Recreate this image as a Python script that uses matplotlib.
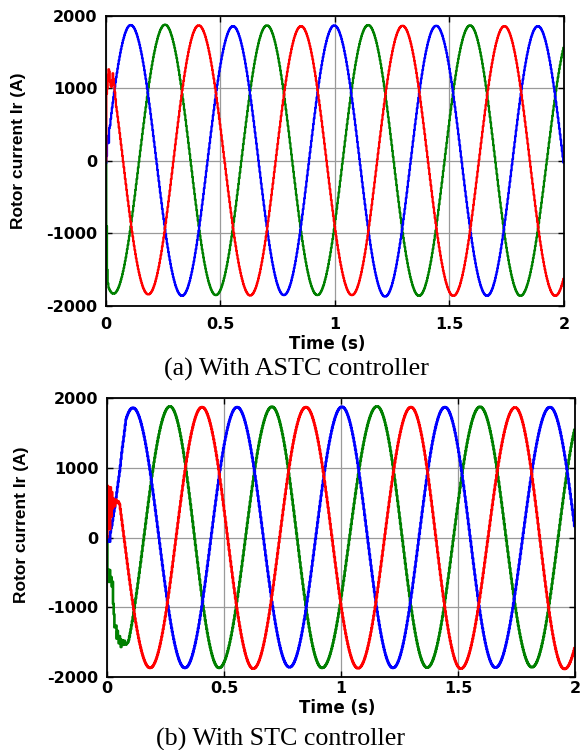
"""Rotor current of the three phases, ASTC vs STC controller (two stacked panels)."""

import matplotlib
matplotlib.use("Agg")
import matplotlib.pyplot as plt
import numpy as np

# ---- ASTC controller: (time s, current A) of successive extrema per phase
ASTC_BLUE_EXT_T = [-0.109, 0.108, 0.332, 0.555, 0.777, 0.997, 1.219, 1.442, 1.664, 1.886, 2.108]
ASTC_BLUE_EXT_I = [-1850, 1875, -1860, 1860, -1850, 1870, -1870, 1865, -1860, 1860, -1850]
ASTC_GREEN_EXT_T = [-0.188, 0.033, 0.258, 0.480, 0.703, 0.923, 1.145, 1.367, 1.590, 1.810, 2.040]
ASTC_GREEN_EXT_I = [1850, -1830, 1880, -1850, 1870, -1850, 1875, -1860, 1870, -1860, 1860]
ASTC_RED_EXT_T = [-0.036, 0.185, 0.405, 0.630, 0.852, 1.074, 1.295, 1.517, 1.740, 1.962, 2.184]
ASTC_RED_EXT_I = [1850, -1840, 1870, -1855, 1860, -1850, 1865, -1860, 1860, -1860, 1850]

# start-up transient (first few tens of ms)
ASTC_BLUE_START_T = [0.0, 0.004, 0.008, 0.012, 0.016, 0.020]
ASTC_BLUE_START_I = [-30, 100, 380, 250, 520, 460]
ASTC_GREEN_START_T = [0.0, 0.003, 0.006, 0.010]
ASTC_GREEN_START_I = [0, -900, -1500, -1750]
ASTC_RED_START_T = [0.0, 0.002, 0.006, 0.010, 0.014, 0.019, 0.024, 0.030, 0.036, 0.045, 0.050]
ASTC_RED_START_I = [0, 900, 1000, 1250, 1280, 1050, 1020, 1210, 1050, 750, 640]

# ---- STC controller
STC_BLUE_EXT_T = [-0.111, 0.111, 0.333, 0.556, 0.780, 1.004, 1.222, 1.444, 1.660, 1.893, 2.115]
STC_BLUE_EXT_I = [-1860, 1860, -1870, 1870, -1860, 1875, -1870, 1870, -1865, 1870, -1860]
STC_GREEN_EXT_T = [-0.175, 0.047, 0.269, 0.479, 0.705, 0.919, 1.154, 1.368, 1.594, 1.816, 2.040]
STC_GREEN_EXT_I = [1850, -1850, 1880, -1870, 1875, -1870, 1880, -1865, 1875, -1860, 1860]
STC_RED_EXT_T = [-0.038, 0.184, 0.406, 0.625, 0.850, 1.073, 1.299, 1.512, 1.744, 1.955, 2.190]
STC_RED_EXT_I = [1850, -1870, 1870, -1880, 1870, -1875, 1870, -1880, 1865, -1885, 1860]

STC_BLUE_START_T = [0.0, 0.004, 0.008, 0.012, 0.016, 0.020, 0.026, 0.034, 0.042, 0.050, 0.056, 0.064, 0.072, 0.080]
STC_BLUE_START_I = [0, -80, 40, -60, 120, 150, 290, 450, 650, 850, 1000, 1250, 1450, 1670]
STC_GREEN_START_T = [0.0, 0.002, 0.005, 0.008, 0.011, 0.014, 0.017, 0.020, 0.023, 0.026, 0.030,
                     0.034, 0.038, 0.042, 0.046, 0.050, 0.055, 0.060, 0.065, 0.070, 0.075, 0.080, 0.090]
STC_GREEN_START_I = [0, -600, -300, -780, -350, -700, -450, -800, -500, -900, -1100,
                     -1350, -1200, -1450, -1300, -1550, -1380, -1570, -1450, -1560, -1480, -1540, -1500]
STC_RED_START_T = [0.0, 0.003, 0.006, 0.009, 0.012, 0.015, 0.018, 0.021, 0.024, 0.028, 0.033,
                   0.038, 0.043, 0.048, 0.055]
STC_RED_START_I = [0, 740, 150, 700, 120, 720, 300, 650, 420, 600, 450, 560, 480, 520, 470]

X_TICKS = [0, 0.5, 1, 1.5, 2]
X_TICK_LABELS = ["0", "0.5", "1", "1.5", "2"]
Y_TICKS = [-2000, -1000, 0, 1000, 2000]
Y_TICK_LABELS = ["-2000", "-1000", "0", "1000", "2000"]

PHASE_COLORS = {"blue": "#0000ff", "green": "#008000", "red": "#ff0000"}
TICK_FONT = dict(family="DejaVu Sans", weight="bold", size=11.5)


def phase_current(t, ext_t, ext_i, start_t, start_i):
    """Half-cosine swing between successive extrema, start-up transient spliced in."""
    ext_t = np.asarray(ext_t, float)
    ext_i = np.asarray(ext_i, float)
    k = np.clip(np.searchsorted(ext_t, t, side="right") - 1, 0, len(ext_t) - 2)
    t0, t1 = ext_t[k], ext_t[k + 1]
    a, b = ext_i[k], ext_i[k + 1]
    s = (t - t0) / (t1 - t0)
    cur = (a + b) / 2 + (a - b) / 2 * np.cos(np.pi * s)
    early = t <= start_t[-1]
    cur[early] = np.interp(t[early], start_t, start_i)
    return cur


def draw_panel(ax, phases, lw):
    # sampled-and-held trace, like the simulation scope output
    t = np.arange(0.0, 2.0 + 1e-9, 0.003)
    for color, (ext_t, ext_i, st_t, st_i) in phases:
        ax.plot(t, phase_current(t, ext_t, ext_i, st_t, st_i),
                color=PHASE_COLORS[color], linewidth=lw, drawstyle="steps-mid")
    ax.set_xlim(0, 2)
    ax.set_ylim(-2000, 2000)
    ax.set_xticks(X_TICKS)
    ax.set_xticklabels(X_TICK_LABELS, fontdict=TICK_FONT)
    ax.set_yticks(Y_TICKS)
    ax.set_yticklabels(Y_TICK_LABELS, fontdict=TICK_FONT)
    ax.tick_params(direction="in", length=4, width=1, top=True, right=True)
    ax.grid(True, color="#9a9a9a", linewidth=0.9)
    ax.set_axisbelow(True)
    for sp in ax.spines.values():
        sp.set_linewidth(1.3)
    ax.set_xlabel("Time (s)", family="DejaVu Sans", weight="bold", size=12, va="center")
    ax.set_ylabel("Rotor current Ir (A)", family="Liberation Sans", weight="bold",
                  size=12.5, va="center")


fig = plt.figure(figsize=(5.81, 7.5), dpi=100)

ax_a = fig.add_axes([0.1824, 0.592, 0.7883, 0.3867])
draw_panel(ax_a, [
    ("green", (ASTC_GREEN_EXT_T, ASTC_GREEN_EXT_I, ASTC_GREEN_START_T, ASTC_GREEN_START_I)),
    ("blue", (ASTC_BLUE_EXT_T, ASTC_BLUE_EXT_I, ASTC_BLUE_START_T, ASTC_BLUE_START_I)),
    ("red", (ASTC_RED_EXT_T, ASTC_RED_EXT_I, ASTC_RED_START_T, ASTC_RED_START_I)),
], lw=1.6)
ax_a.tick_params(axis="x", pad=8)
ax_a.tick_params(axis="y", pad=6)
ax_a.xaxis.set_label_coords(0.483, -0.130)
ax_a.yaxis.set_label_coords(-0.192, 0.534)

ax_b = fig.add_axes([0.1842, 0.0973, 0.8055, 0.372])
draw_panel(ax_b, [
    ("green", (STC_GREEN_EXT_T, STC_GREEN_EXT_I, STC_GREEN_START_T, STC_GREEN_START_I)),
    ("blue", (STC_BLUE_EXT_T, STC_BLUE_EXT_I, STC_BLUE_START_T, STC_BLUE_START_I)),
    ("red", (STC_RED_EXT_T, STC_RED_EXT_I, STC_RED_START_T, STC_RED_START_I)),
], lw=1.9)
ax_b.tick_params(axis="x", pad=3)
ax_b.tick_params(axis="y", pad=6)
ax_b.xaxis.set_label_coords(0.491, -0.112)
ax_b.yaxis.set_label_coords(-0.182, 0.545)

fig.text(296 / 581, 1 - 369 / 750, "(a) With ASTC controller",
         family="Liberation Serif", size=18.7, ha="center", va="center")
fig.text(280 / 581, 1 - 739 / 750, "(b) With STC controller",
         family="Liberation Serif", size=18.7, ha="center", va="center")

fig.savefig("out.png", dpi=100)
